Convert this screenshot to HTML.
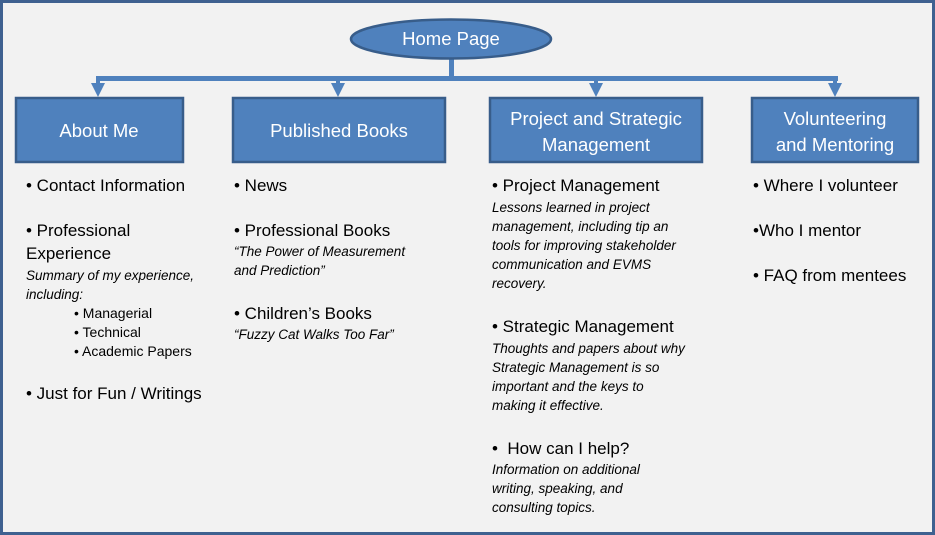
<!DOCTYPE html>
<html><head><style>
body{margin:0;width:935px;height:535px;overflow:hidden;background:#f2f2f2;font-family:"Liberation Sans",sans-serif}
.t{position:absolute;white-space:nowrap;color:#000;font-size:17px;line-height:19px}
.i{position:absolute;white-space:nowrap;font-style:italic;font-size:13.5px;line-height:19px}
.s{position:absolute;white-space:nowrap;font-size:14px;line-height:19px}
</style></head><body>
<svg width="935" height="535" style="position:absolute;left:0;top:0">
<rect x="1.5" y="1.5" width="932" height="532" fill="#f2f2f2" stroke="#3f6190" stroke-width="3"/>
<g fill="#4f81bd" stroke="#4f81bd">
<rect x="449" y="57" width="5" height="23" stroke="none"/>
<rect x="96" y="76" width="742" height="5" stroke="none"/>
<rect x="96" y="76" width="4" height="10" stroke="none"/>
<rect x="336" y="76" width="4" height="10" stroke="none"/>
<rect x="594" y="76" width="4" height="10" stroke="none"/>
<rect x="833" y="76" width="4" height="10" stroke="none"/>
<polygon points="91,83 105,83 98,97" stroke="none"/>
<polygon points="331,83 345,83 338,97" stroke="none"/>
<polygon points="589,83 603,83 596,97" stroke="none"/>
<polygon points="828,83 842,83 835,97" stroke="none"/>
</g>
<g fill="#4f81bd" stroke="#385d8a" stroke-width="2.5">
<ellipse cx="451" cy="39" rx="100" ry="19.5"/>
<rect x="16" y="98" width="167" height="64"/>
<rect x="233" y="98" width="212" height="64"/>
<rect x="490" y="98" width="212" height="64"/>
<rect x="752" y="98" width="166" height="64"/>
</g>
<g fill="#fff" font-family="Liberation Sans, sans-serif" font-size="18.5" text-anchor="middle">
<text x="451" y="45">Home Page</text>
<text x="99" y="137">About Me</text>
<text x="339" y="137">Published Books</text>
<text x="596" y="125">Project and Strategic</text>
<text x="596" y="151">Management</text>
<text x="835" y="125">Volunteering</text>
<text x="835" y="151">and Mentoring</text>
</g>
</svg>
<div class="t" style="left:26px;top:176px">• Contact Information</div>
<div class="t" style="left:26px;top:221px">• Professional</div>
<div class="t" style="left:26px;top:244px">Experience</div>
<div class="i" style="left:26px;top:266px">Summary of my experience,</div>
<div class="i" style="left:26px;top:285px">including:</div>
<div class="s" style="left:74px;top:304px">• Managerial</div>
<div class="s" style="left:74px;top:323px">• Technical</div>
<div class="s" style="left:74px;top:342px">• Academic Papers</div>
<div class="t" style="left:26px;top:384px">• Just for Fun / Writings</div>

<div class="t" style="left:234px;top:176px">• News</div>
<div class="t" style="left:234px;top:221px">• Professional Books</div>
<div class="i" style="left:234px;top:242px">“The Power of Measurement</div>
<div class="i" style="left:234px;top:261px">and Prediction”</div>
<div class="t" style="left:234px;top:304px">• Children’s Books</div>
<div class="i" style="left:234px;top:325px">“Fuzzy Cat Walks Too Far”</div>

<div class="t" style="left:492px;top:176px">• Project Management</div>
<div class="i" style="left:492px;top:198px">Lessons learned in project</div>
<div class="i" style="left:492px;top:217px">management, including tip an</div>
<div class="i" style="left:492px;top:236px">tools for improving stakeholder</div>
<div class="i" style="left:492px;top:255px">communication and EVMS</div>
<div class="i" style="left:492px;top:274px">recovery.</div>
<div class="t" style="left:492px;top:317px">• Strategic Management</div>
<div class="i" style="left:492px;top:339px">Thoughts and papers about why</div>
<div class="i" style="left:492px;top:358px">Strategic Management is so</div>
<div class="i" style="left:492px;top:377px">important and the keys to</div>
<div class="i" style="left:492px;top:396px">making it effective.</div>
<div class="t" style="left:492px;top:439px">•&nbsp; How can I help?</div>
<div class="i" style="left:492px;top:460px">Information on additional</div>
<div class="i" style="left:492px;top:479px">writing, speaking, and</div>
<div class="i" style="left:492px;top:498px">consulting topics.</div>

<div class="t" style="left:753px;top:176px">• Where I volunteer</div>
<div class="t" style="left:753px;top:221px">•Who I mentor</div>
<div class="t" style="left:753px;top:266px">• FAQ from mentees</div>
</body></html>
